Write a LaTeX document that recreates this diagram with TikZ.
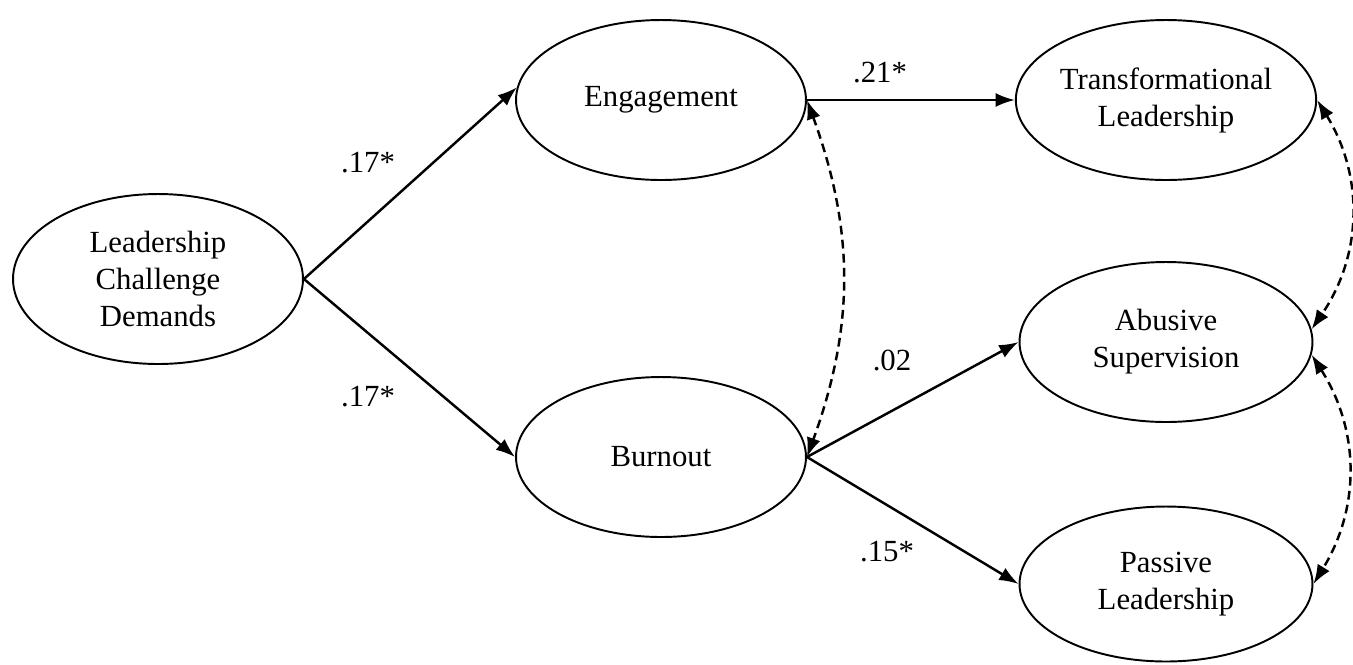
\documentclass[tikz,border=0pt]{standalone}
\usepackage{fontspec}
\setmainfont{Liberation Serif}
\usetikzlibrary{shapes.geometric,arrows.meta}
\begin{document}
\begin{tikzpicture}[x=0.02cm,y=-0.02cm,font=\fontsize{17.5}{21}\selectfont,
        latent/.style={draw,ellipse,line width=1.1pt,minimum width=5.8cm,minimum height=3.2cm,inner sep=0pt,align=center},
        path/.style={line width=1.4pt,-{Latex[length=11pt,width=8pt]}},
        cov/.style={line width=1.4pt,dash pattern=on 5pt off 3pt,{Latex[length=11pt,width=8pt]}-{Latex[length=11pt,width=8pt]}}]
                \useasboundingbox (0,0) rectangle (1353,664);
                \node[latent,minimum height=3.4cm] (lcd) at (158,279) {Leadership\\Challenge\\Demands};
                \node[latent] (eng) at (661,100) {Engagement};
                \node[latent] (burn) at (661,457) {Burnout};
                \node[latent,minimum width=5.86cm] (tl) at (1166,100) {Transformational\\Leadership};
                \node[latent,minimum width=5.86cm] (ab) at (1166,342) {Abusive\\Supervision};
                \node[latent,minimum width=5.86cm,minimum height=3.1cm] (pl) at (1166,584) {Passive\\Leadership};
                \draw[path] (lcd.east) -- (eng.175);
                \draw[path] (lcd.east) -- (burn.west);
                \draw[path] (eng.east) -- (tl.west);
                \draw[path] (burn.east) -- (ab.west);
                \draw[path] (burn.east) -- (pl.west);
                \draw[cov] (eng.east) to[bend left=20] (burn.east);
                \draw[cov] (tl.east) to[bend left=33] (ab.5);
                \draw[cov] (ab.-5) to[bend left=32] (pl.east);
                \foreach \x/\y/\t/\n in {368/163/.17*/a, 368/397/.17*/b, 880/73/.21*/c, 892/360/.02/d, 887/552/.15*/e}{
                    \node (lab\n) at (\x,\y) {\t};
                }
            \end{tikzpicture}
\end{document}
